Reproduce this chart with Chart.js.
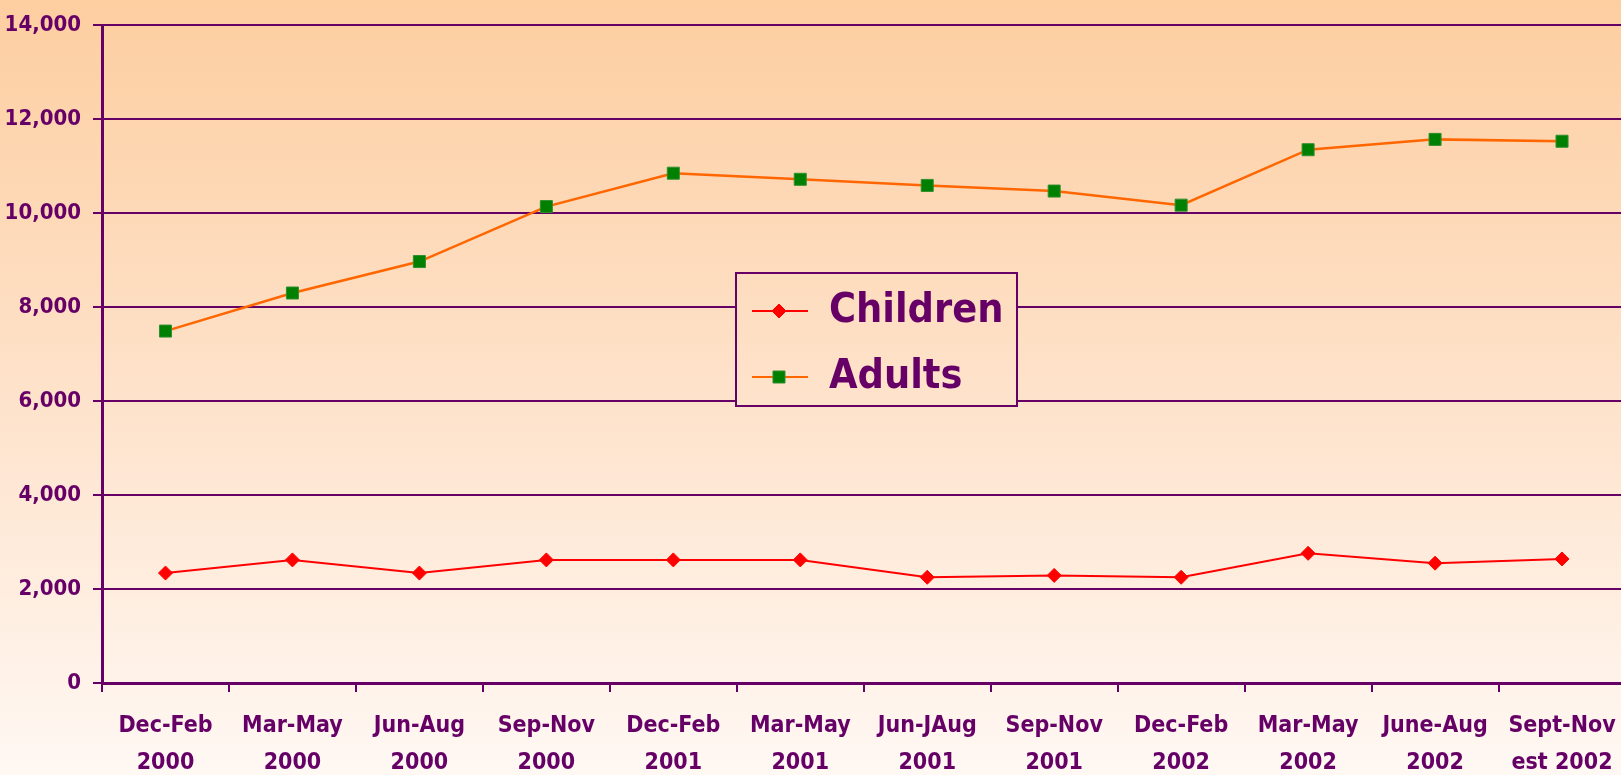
<!DOCTYPE html>
<html>
<head>
<meta charset="utf-8">
<script src="https://cdn.jsdelivr.net/npm/chart.js@4"></script>
<style>
  html, body { margin: 0; padding: 0; background: #fff3e8; overflow: hidden; }
  #wrap { position: relative; width: 1621px; height: 775px; overflow: hidden; }
</style>
</head>
<body>
<div id="wrap"><canvas id="chart" width="1635" height="775"></canvas></div>
<script>
// datos del gráfico
const periodos = [
  ["Dec-Feb", "2000"], ["Mar-May", "2000"], ["Jun-Aug", "2000"], ["Sep-Nov", "2000"],
  ["Dec-Feb", "2001"], ["Mar-May", "2001"], ["Jun-JAug", "2001"], ["Sep-Nov", "2001"],
  ["Dec-Feb", "2002"], ["Mar-May", "2002"], ["June-Aug", "2002"], ["Sept-Nov", "est 2002"]
];
const children = [2340, 2620, 2340, 2620, 2620, 2620, 2250, 2290, 2250, 2760, 2550, 2640];
const adults = [7490, 8300, 8970, 10140, 10850, 10720, 10590, 10470, 10170, 11350, 11570, 11530];
const yTicks = [0, 2000, 4000, 6000, 8000, 10000, 12000, 14000];

const PURPLE = "#660066";
const FONT = "'DejaVu Sans Condensed', 'Liberation Sans Narrow', sans-serif";

function bgGradient(ctx, h) {
  const g = ctx.createLinearGradient(0, 0, 0, h);
  g.addColorStop(0, "#fdcea0");
  g.addColorStop(0.5, "#fee2ca");
  g.addColorStop(1, "#fff8f3");
  return g;
}

// fondo degradado
const fondo = {
  id: "fondo",
  beforeDraw(chart) {
    const ctx = chart.ctx;
    ctx.save();
    ctx.fillStyle = bgGradient(ctx, chart.height);
    ctx.fillRect(0, 0, chart.width, chart.height);
    ctx.restore();
  }
};

// leyenda en caja, dentro del área
const leyenda = {
  id: "leyenda",
  afterDraw(chart) {
    const ctx = chart.ctx;
    const box = { x: 736, y: 273, w: 281, h: 133 };
    ctx.save();
    ctx.fillStyle = bgGradient(ctx, chart.height);
    ctx.fillRect(box.x, box.y, box.w, box.h);
    ctx.strokeStyle = PURPLE;
    ctx.lineWidth = 2;
    ctx.strokeRect(box.x, box.y, box.w, box.h);
    const rows = [
      { label: "Children", ds: chart.data.datasets[0], y: 311 },
      { label: "Adults", ds: chart.data.datasets[1], y: 377 }
    ];
    rows.forEach(r => {
      ctx.strokeStyle = r.ds.borderColor;
      ctx.lineWidth = 2;
      ctx.beginPath();
      ctx.moveTo(752, r.y);
      ctx.lineTo(808, r.y);
      ctx.stroke();
      ctx.fillStyle = r.ds.pointBackgroundColor;
      ctx.strokeStyle = r.ds.pointBorderColor;
      ctx.lineWidth = 1;
      Chart.helpers.drawPoint(ctx, { pointStyle: r.ds.pointStyle, radius: r.ds.pointRadius, borderWidth: 1 }, 779, r.y);
      ctx.fillStyle = PURPLE;
      ctx.font = "bold 41px " + FONT;
      ctx.textBaseline = "middle";
      ctx.textAlign = "left";
      ctx.fillText(r.label, 829, r.y);
    });
    ctx.restore();
  }
};

new Chart(document.getElementById("chart"), {
  type: "line",
  data: {
    labels: periodos,
    datasets: [
      {
        label: "Children",
        data: children,
        borderColor: "#ff0000",
        borderWidth: 2,
        pointStyle: "rectRot",
        pointRadius: 7,
        pointBackgroundColor: "#ff0000",
        pointBorderColor: "#ff0000",
        pointBorderWidth: 1,
        tension: 0
      },
      {
        label: "Adults",
        data: adults,
        borderColor: "#ff6600",
        borderWidth: 2.5,
        pointStyle: "rect",
        pointRadius: 8.5,
        pointBackgroundColor: "#008000",
        pointBorderColor: "#2f8f2f",
        pointBorderWidth: 1,
        tension: 0
      }
    ]
  },
  options: {
    responsive: false,
    animation: false,
    layout: { padding: { top: 5, right: 0, left: 0, bottom: 0 } },
    plugins: { legend: { display: false }, tooltip: { enabled: false } },
    scales: {
      x: {
        offset: true,
        grid: { drawOnChartArea: false, drawTicks: true, tickLength: 9, color: PURPLE, lineWidth: 2, offset: true },
        border: { color: PURPLE, width: 3 },
        ticks: {
          color: PURPLE,
          font: { family: FONT, size: 23, weight: "bold", lineHeight: 1.62 },
          maxRotation: 0,
          autoSkip: false,
          padding: 15
        },
        afterFit(scale) { scale.height = 92; }
      },
      y: {
        min: 0,
        max: 14000,
        afterBuildTicks(scale) { scale.ticks = yTicks.map(v => ({ value: v })); },
        grid: { color: PURPLE, lineWidth: 2, tickLength: 9 },
        border: { color: PURPLE, width: 3 },
        ticks: {
          color: PURPLE,
          font: { family: FONT, size: 22, weight: "bold" },
          padding: 12,
          callback: v => v.toLocaleString("en-US")
        },
        afterFit(scale) { scale.width = 102; }
      }
    }
  },
  plugins: [fondo, leyenda]
});
</script>
</body>
</html>
